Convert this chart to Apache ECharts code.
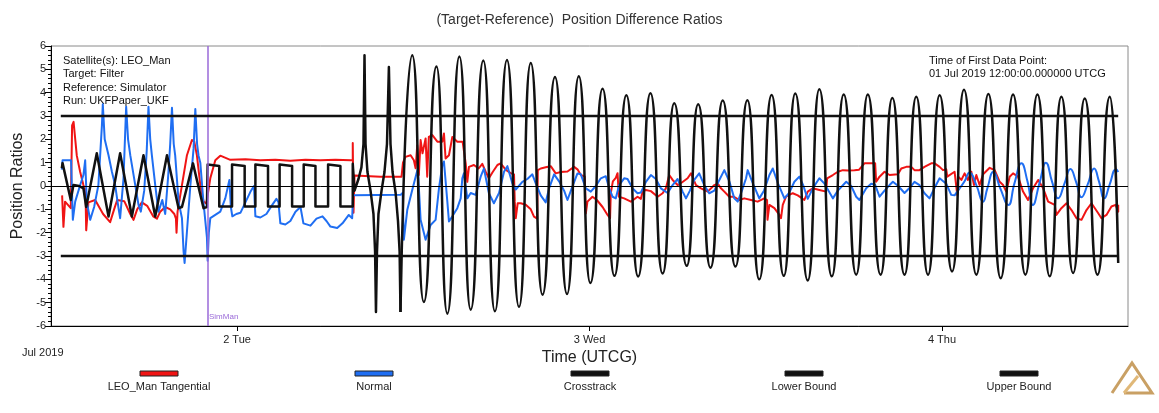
<!DOCTYPE html>
<html>
<head>
<meta charset="utf-8">
<title>Position Difference Ratios</title>
<script src="https://cdn.jsdelivr.net/npm/echarts@6/dist/echarts.min.js"></script>
<style>
  html, body { margin: 0; padding: 0; background: #fff; }
  #chart { width: 1159px; height: 413px; }
</style>
</head>
<body>
<div id="chart"></div>
<script>
// time is in hours since 01 Jul 2019 00:00 UTCG
const dayTicks = [24, 48, 72]
const dayLabels = ['2 Tue', '3 Wed', '4 Thu']
const simManTime = 22

const infoLines = ['Satellite(s): LEO_Man', 'Target: Filter', 'Reference: Simulator', 'Run: UKFPaper_UKF']
const firstPointLines = ['Time of First Data Point:', '01 Jul 2019 12:00:00.000000 UTCG']
const legendNames = ['LEO_Man Tangential', 'Normal', 'Crosstrack', 'Lower Bound', 'Upper Bound']

const tangential = [
  [12.09,-0.4],[12.18,-1.75],[12.29,-0.67],[12.68,-0.95],[12.77,2.6],[12.87,2.75],[13.09,1.3],[13.32,0.6],[13.54,0.04],[13.68,-0.2],
  [13.73,-1.9],[13.88,-0.7],[14.34,-0.6],[14.88,-1.2],[15.36,-1.55],[15.63,-1.0],[15.84,-0.6],[16.32,-0.65],[16.73,-1.2],[16.95,-1.45],
  [17.2,-1.0],[17.52,-0.7],[17.88,-0.85],[18.29,-1.3],[18.55,-1.4],[18.77,-1.1],[19.11,-0.9],[19.45,-1.0],[19.73,-1.2],[19.84,-1.4],
  [19.88,-2.0],[19.95,-1.1],[20.25,0.04],[20.59,1.32],[20.93,1.97],[21.09,1.9],[21.27,1.3],[21.5,0.04],[21.72,-0.67],[21.91,-0.75],
  [22.18,0.33],[22.52,1.1],[22.86,1.3],[23.54,1.12],[24.57,1.15],[25.59,1.1],[26.61,1.13],[27.63,1.08],[28.66,1.12],[29.68,1.1],
  [30.7,1.12],[31.73,1.1],[31.88,1.1],[31.88,1.84],[31.93,-1.15],[32.0,0.45],[33.77,0.4],[35.2,0.4],[35.3,1.0],[35.47,1.25],
  [35.82,1.32],[36.04,1.1],[36.16,0.76],[36.27,1.75],[36.38,0.47],[36.5,1.97],[36.63,1.4],[36.84,2.04],[36.95,0.4],[37.06,2.1],
  [37.3,2.18],[37.64,1.9],[37.98,1.9],[38.09,2.25],[38.2,1.18],[38.43,1.32],[38.66,2.1],[39.0,1.9],[39.36,1.9],[39.57,0.97],
  [39.68,0.18],[39.79,0.82],[40.13,0.9],[40.45,0.75],[40.7,0.95],[40.93,0.61],[41.15,0.33],[41.41,0.6],[41.73,0.9],[41.95,0.97],
  [42.29,0.7],[42.63,0.55],[42.86,0.5],[42.91,-0.67],[42.98,-1.38],[43.11,-0.74],[43.32,-0.74],[43.66,-0.8],[44.0,-1.0],[44.22,-1.31],
  [44.44,-1.4],[44.48,0.68],[44.68,0.75],[45.02,0.8],[45.36,0.85],[45.7,0.54],[46.04,0.6],[46.5,0.62],[46.95,0.82],[47.2,0.7],
  [47.41,0.47],[47.68,0.4],[47.75,-1.17],[47.86,-0.67],[48.2,-0.46],[48.5,-0.6],[48.89,-0.9],[49.23,-1.24],[49.4,-1.38],[49.45,-0.3],
  [49.59,0.2],[49.79,0.35],[49.91,0.55],[50.0,-0.46],[50.36,-0.53],[50.82,-0.67],[51.27,-0.46],[51.5,-0.55],[51.61,-0.24],[51.84,-0.17],
  [52.18,-0.22],[52.64,-0.46],[52.98,-0.31],[53.2,-0.1],[53.43,0.47],[53.66,0.26],[54.0,0.04],[54.29,0.15],[54.68,0.33],[54.91,0.54],
  [55.25,0.04],[55.59,-0.1],[56.05,-0.24],[56.5,0.04],[56.73,0.1],[56.95,-0.1],[57.18,-0.24],[57.52,-0.46],[57.84,-0.46],[58.2,-0.6],
  [58.54,-0.53],[59.0,-0.6],[59.45,-0.67],[59.9,-0.53],[60.09,-0.6],[60.12,-1.45],[60.25,-0.81],[60.59,-0.95],[60.93,-1.24],[61.04,-1.38],
  [61.16,-0.81],[61.38,-0.46],[61.84,-0.31],[62.18,-0.4],[62.63,-0.6],[62.86,-0.24],[63.2,-0.1],[63.65,-0.17],[64.11,-0.24],[64.18,0.33],
  [64.57,0.47],[64.91,0.61],[65.25,0.68],[65.61,0.66],[66.04,0.68],[66.36,0.7],[66.72,0.97],[67.18,0.97],[67.45,0.97],[67.52,0.18],
  [67.75,0.4],[68.09,0.61],[68.43,0.47],[69.0,0.5],[69.23,0.75],[69.57,0.82],[69.91,0.82],[70.13,0.68],[70.47,0.68],[70.81,0.82],
  [71.27,0.97],[71.5,0.97],[71.84,0.82],[72.07,0.68],[72.29,0.72],[72.36,0.4],[72.86,0.61],[73.04,-0.38],[73.11,0.4],[73.32,0.26],
  [73.54,0.54],[73.77,0.26],[74.0,0.61],[74.18,0.04],[74.34,0.47],[74.56,0.04],[74.8,0.5],[75.25,0.78],[75.59,0.68],[75.93,0.18],
  [76.16,0.04],[76.38,-0.24],[76.61,0.4],[76.84,0.54],[77.18,0.4],[77.52,-0.24],[77.86,-0.6],[78.2,-0.1],[78.55,0.26],[78.89,-0.1],
  [79.23,-0.67],[79.68,-0.81],[79.79,-1.24],[80.13,-0.95],[80.48,-0.74],[80.82,-1.03],[81.16,-1.38],[81.5,-1.45],[81.84,-1.03],[82.18,-0.74],
  [82.64,-1.17],[82.86,-1.38],[83.2,-1.24],[83.54,-0.88],[83.82,-0.81],[84.0,-1.1],[84.0,-0.8]
]

const normalEarly = [
  [12.07,0.7],[12.12,1.1],[12.7,1.1],[12.82,-1.45],[12.98,-0.67],[13.32,0.04],[13.54,0.47],[13.66,1.1],[13.77,-0.67],[14.0,-1.45],
  [14.27,-0.9],[14.56,0.04],[14.8,2.6],[14.86,3.5],[14.99,2.0],[15.25,1.32],[15.48,0.61],[15.7,0.04],[15.93,-0.95],[16.04,-1.38],
  [16.27,0.33],[16.45,3.4],[16.58,2.0],[16.73,1.32],[17.07,0.04],[17.29,-0.8],[17.45,-1.1],[17.68,-0.2],[17.85,1.5],[17.97,3.4],
  [18.09,2.0],[18.2,1.32],[18.43,0.04],[18.65,-1.1],[18.91,-0.6],[19.11,-1.2],[19.32,0.5],[19.45,1.8],[19.57,3.35],[19.69,1.8],
  [19.79,1.3],[20.02,-0.67],[20.25,-1.38],[20.36,-2.8],[20.43,-3.3],[20.59,-1.95],[20.82,0.0],[21.04,1.6],[21.16,3.3],[21.28,1.8],
  [21.38,1.3],[21.5,1.0],[21.7,-0.6],[21.95,-2.2],[22.0,-3.2],[22.08,-2.0],[22.18,-1.38],[22.52,-1.24],[22.86,-1.1],[23.2,-0.53],
  [23.48,0.26],[23.58,-0.9],[23.68,-1.3],[23.95,-1.2],[24.23,-1.15],[24.57,-0.7],[24.91,-0.25],[25.15,0.0],[25.25,-1.3],[25.59,-1.35],
  [26.0,-1.2],[26.41,-0.8],[26.68,-0.55],[26.82,-0.7],[26.95,-1.6],[27.29,-1.65],[27.63,-1.5],[27.98,-1.1],[28.32,-0.9],[28.52,-1.6],
  [29.0,-1.7],[29.41,-1.4],[29.82,-1.3],[30.09,-1.5],[30.36,-1.74],[30.82,-1.8],[31.18,-1.6],[31.61,-1.24],[31.84,-1.38],[31.9,-0.4],
  [35.13,-0.38],[35.27,-0.3],[35.36,-2.3],[35.59,-1.03],[35.93,-0.17],[36.31,0.75],[36.5,-1.45],[36.84,-2.3],[37.18,-1.67],[37.52,-1.45],
  [37.75,-0.1],[37.98,0.9],[38.09,1.05],[38.32,-0.67],[38.43,-1.52],[38.66,-1.3],[39.0,-0.95],[39.23,-0.53],[39.34,0.33],[39.45,0.54],
  [39.68,-0.53],[39.91,-0.3],[40.25,-0.38],[40.59,0.4],[40.81,0.75],[41.15,-0.31],[41.49,-0.74],[41.84,-0.3],[42.18,0.61],[42.41,0.85],
  [42.75,0.11],[42.98,-0.15],[43.43,0.18],[43.77,0.3],[44.11,0.5],[44.34,0.11],[44.68,-0.4],[45.02,-0.7],[45.25,-0.1],[45.59,0.5],
  [45.93,0.2],[46.27,-0.2],[46.5,-0.6],[46.79,-0.1],[47.18,0.54],[47.41,0.5],[47.75,-0.1],[48.09,-0.24],[48.43,0.0],[48.77,0.33],
  [49.11,0.42],[49.34,-0.1],[49.57,-0.46],[49.79,-0.53],[50.02,0.04],[50.36,0.33],[50.59,0.3],[50.93,-0.1],[51.27,-0.31],[51.5,-0.28],
  [51.84,0.18],[52.18,0.47],[52.52,0.3],[52.86,-0.1],[53.32,-0.3],[53.66,0.04],[54.0,0.3],[54.34,-0.24],[54.57,-0.53],[54.84,-0.2],
  [55.13,0.26],[55.47,0.54],[55.81,0.04],[56.15,-0.31],[56.5,-0.2],[56.84,0.26],[57.18,0.68],[57.52,0.2],[57.86,-0.53],[58.09,-0.67],
  [58.38,-0.2],[58.66,0.33],[58.77,0.68],[59.13,0.1],[59.56,-0.53],[59.88,-0.2],[60.25,0.47],[60.48,0.75],[60.84,0.1],[61.27,-0.53],
  [61.59,-0.3],[61.95,0.18],[62.29,0.4],[62.54,0.05],[62.86,-0.55],[63.2,-0.1],[63.65,0.33],[64.0,0.1],[64.57,-0.53],[64.91,-0.2],
  [65.48,0.18],[65.82,0.0],[66.16,-0.46],[66.38,-0.6],[66.84,-0.1],[67.18,0.1],[67.45,0.05],[67.75,-0.46],[68.09,-0.2],[68.43,0.04],
  [68.66,0.18],[69.02,0.0],[69.45,-0.3],[69.77,-0.1],[70.13,0.18],[70.45,0.05],[70.81,-0.31],[71.15,-0.53],[71.48,-0.1],[71.84,0.33],
  [72.29,0.1],[72.63,-0.38],[72.86,-0.4],[73.2,-0.1]
]

const normalLate = [
  [73.2,-0.1],[73.54,0.2],[73.88,0.58],[74.34,0.04],[74.8,-0.67],[75.09,-0.1],[75.5,0.61],[75.97,-0.1],[76.52,-0.81],[76.93,0.1],
  [77.41,0.97],[77.82,0.2],[78.19,-0.81],[78.63,0.1],[79.08,1.0],[79.49,0.2],[79.91,-0.53],[80.34,0.1],[80.75,0.73],[81.12,0.2],
  [81.5,-0.48],[81.91,0.05],[82.36,0.75],[82.69,0.2],[83.05,-0.53],[83.41,0.05],[83.85,0.72],[84.0,0.6]
]

// zigzag, square wave and spikes before the big oscillations
const crosstrackEarly = [
  [12.07,0.76],[12.12,0.98],[12.68,-0.6],[12.86,0.04],[13.25,0.0],[13.54,-0.1],[13.73,-0.9],[14.45,1.4],[15.25,-1.31],[16.04,1.4],
  [16.84,-1.31],[17.63,1.32],[18.43,-1.31],[19.23,1.32],[20.02,-0.95],[20.25,-0.9],[21.0,0.97],[21.72,-0.95],[21.95,-0.9],
  [22.0,-0.9],[22.0,0.92],[22.79,0.86],[22.79,-0.88],[23.66,-0.88],[23.66,0.92],[24.52,0.86],[24.52,-0.88],[25.25,-0.88],[25.25,0.92],
  [26.11,0.86],[26.11,-0.88],[26.9,-0.88],[26.9,0.92],[27.75,0.86],[27.75,-0.88],[28.54,-0.88],[28.54,0.92],[29.34,0.86],[29.34,-0.88],
  [30.2,-0.88],[30.2,0.92],[31.04,0.86],[31.04,-0.88],[31.88,-0.88],[31.88,0.95],
  [32.0,-0.2],[32.27,0.3],[32.47,0.8],[32.61,1.8],[32.68,5.6],[32.75,1.8],[32.88,0.6],[33.09,-0.2],[33.29,-1.2],[33.4,-2.8],
  [33.46,-5.4],[33.53,-2.8],[33.63,-1.2],[33.84,-0.2],[34.04,0.6],[34.21,1.8],[34.34,5.1],[34.45,1.8],[34.59,0.6],[34.8,-0.3],
  [34.96,-1.5],[35.07,-2.8],[35.13,-5.4]
]

// peaks and troughs of the orbital oscillation
const crosstrackLate = [
  [35.13,-5.4],[35.93,5.6],[36.72,-4.97],[37.58,5.12],[38.32,-5.47],[39.14,5.55],[39.91,-5.3],[40.77,5.38],[41.56,-5.37],[42.38,5.4],
  [43.2,-5.18],[44.0,5.27],[44.8,-4.66],[45.65,4.67],[46.47,-4.63],[47.27,4.7],[48.06,-4.16],[48.89,4.17],[49.7,-3.85],[50.51,3.89],
  [51.31,-3.88],[52.15,3.97],[52.98,-3.75],[53.77,3.55],[54.62,-3.42],[55.4,3.5],[56.24,-3.5],[57.07,3.66],[57.94,-3.45],[58.75,3.68],
  [59.56,-4.0],[60.4,3.9],[61.23,-3.85],[62.01,3.96],[62.86,-4.05],[63.65,4.15],[64.5,-3.87],[65.31,3.92],[66.16,-3.8],[66.95,3.92],
  [67.82,-3.8],[68.62,3.77],[69.45,-3.8],[70.25,3.82],[71.05,-3.8],[71.84,3.89],[72.69,-3.66],[73.5,4.12],[74.34,-3.8],[75.16,3.94],
  [76.0,-3.95],[76.84,3.92],[77.68,-3.8],[78.5,3.92],[79.34,-3.87],[80.13,3.82],[80.93,-3.73],[81.72,3.75],[82.59,-3.8],[83.43,3.82],
  [84.0,-3.3]
]

const boundTimes = [12, 84]
const lowerBound = [-3, -3]
const upperBound = [3, 3]

const FONT = '"Liberation Sans", Arial, sans-serif'
const RED = '#f01414'
const BLUE = '#1f6ef2'
const BLACK = '#111111'

const chart = echarts.init(document.getElementById('chart'), null, { renderer: 'canvas' })

const lineSeries = (name, data, color, width, smooth, z) => ({
  name,
  type: 'line',
  data,
  smooth,
  showSymbol: false,
  symbol: 'none',
  silent: true,
  z,
  lineStyle: { color, width, join: 'round' }
})

// legend drawn under the axis: swatch on top, label under it
const legendColors = [RED, BLUE, BLACK, BLACK, BLACK]
const legendX = [159, 374, 590, 804, 1019]
const legendGraphics = []
legendNames.forEach((name, i) => {
  legendGraphics.push({
    type: 'rect',
    shape: { x: legendX[i] - 19, y: 371, width: 38, height: 5 },
    style: { fill: legendColors[i], stroke: '#222', lineWidth: 1 }
  })
  legendGraphics.push({
    type: 'text',
    x: legendX[i],
    y: 387,
    style: { text: name, font: '11px ' + FONT, fill: '#222', align: 'center', verticalAlign: 'middle' }
  })
})

chart.setOption({
  animation: false,
  backgroundColor: '#fff',
  title: {
    text: '(Target-Reference)  Position Difference Ratios',
    left: 'center',
    top: 8,
    textStyle: { fontFamily: FONT, fontSize: 14, fontWeight: 'normal', color: '#333' }
  },
  grid: {
    left: 51,
    right: 31,
    top: 46,
    bottom: 87,
    show: true,
    borderColor: '#8a8a8a',
    borderWidth: 1
  },
  xAxis: {
    type: 'value',
    min: 11.333,
    max: 84.667,
    name: 'Time (UTCG)',
    nameLocation: 'middle',
    nameGap: 22,
    nameTextStyle: { fontFamily: FONT, fontSize: 16, color: '#222' },
    axisLine: { show: true, onZero: false, lineStyle: { color: '#000', width: 1 } },
    axisTick: { show: true, length: 5, customValues: dayTicks, lineStyle: { color: '#000' } },
    axisLabel: {
      customValues: dayTicks,
      margin: 8,
      fontFamily: FONT,
      fontSize: 11,
      color: '#222',
      formatter: v => dayLabels[dayTicks.indexOf(Math.round(v))] || ''
    },
    splitLine: { show: false }
  },
  yAxis: {
    type: 'value',
    min: -6,
    max: 6,
    interval: 1,
    name: 'Position Ratios',
    nameLocation: 'middle',
    nameGap: 25,
    nameTextStyle: { fontFamily: FONT, fontSize: 16, color: '#222' },
    axisLine: { show: true, onZero: false, lineStyle: { color: '#000', width: 1 } },
    axisTick: { show: true, length: 6, lineStyle: { color: '#000' } },
    minorTick: { show: true, splitNumber: 5, length: 3, lineStyle: { color: '#000' } },
    axisLabel: { margin: 5, fontFamily: FONT, fontSize: 11, color: '#222' },
    splitLine: { show: false }
  },
  series: [
    Object.assign(lineSeries('LEO_Man Tangential', tangential, RED, 2, false, 2), {
      markLine: {
        silent: true,
        symbol: ['none', 'none'],
        label: { show: false },
        data: [
          { yAxis: 0, lineStyle: { color: '#000', width: 1, type: 'solid' } },
          { xAxis: simManTime, lineStyle: { color: '#9a6ad8', width: 1.5, type: 'solid' } }
        ]
      }
    }),
    lineSeries('Normal', normalEarly, BLUE, 2, false, 3),
    lineSeries('Normal', normalLate, BLUE, 2, true, 3),
    lineSeries('Crosstrack', crosstrackEarly, BLACK, 2.5, false, 4),
    Object.assign(lineSeries('Crosstrack', crosstrackLate, BLACK, 2.5, 0.62, 4), { smoothMonotone: 'x' }),
    lineSeries('Lower Bound', boundTimes.map((t, i) => [t, lowerBound[i]]), BLACK, 2.5, false, 5),
    lineSeries('Upper Bound', boundTimes.map((t, i) => [t, upperBound[i]]), BLACK, 2.5, false, 5)
  ],
  graphic: [
    {
      type: 'text', left: 63, top: 54,
      style: { text: infoLines.join('\n'), font: '11px ' + FONT, lineHeight: 13.5, fill: '#111' }
    },
    {
      type: 'text', left: 929, top: 54,
      style: { text: firstPointLines.join('\n'), font: '11px ' + FONT, lineHeight: 13.5, fill: '#111' }
    },
    {
      type: 'text', left: 209, top: 313,
      style: { text: 'SimMan', font: '8px ' + FONT, fill: '#9a6ad8' }
    },
    {
      type: 'text', left: 22, top: 347,
      style: { text: 'Jul 2019', font: '11px ' + FONT, fill: '#222' }
    },
    ...legendGraphics,
    // AGI-style logo mark
    {
      type: 'polyline',
      shape: { points: [[1112, 393], [1132, 363], [1152, 393], [1124, 393]] },
      style: { stroke: '#c9a064', lineWidth: 3, fill: null }
    },
    {
      type: 'polyline',
      shape: { points: [[1124, 393], [1138, 376]] },
      style: { stroke: '#e0b878', lineWidth: 3, fill: null }
    }
  ]
})

window.addEventListener('resize', () => {
  chart.resize()
})
</script>
</body>
</html>
